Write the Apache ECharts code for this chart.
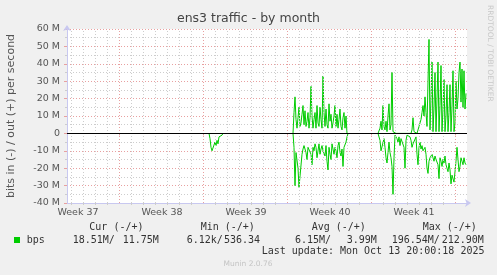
<!DOCTYPE html>
<html><head><meta charset="utf-8">
<script src="https://cdn.jsdelivr.net/npm/echarts@6/dist/echarts.min.js"></script>
<style>html,body{margin:0;padding:0;background:#f0f0f0;}#c{width:497px;height:275px;}</style>
</head><body><div id="c"></div>
<script>
// ---- chart text ----
const chartTitle = 'ens3 traffic - by month';
const yAxisName = 'bits in (-) / out (+) per second';
const sideText = 'RRDTOOL / TOBI OETIKER';
const footerText = 'Munin 2.0.76';
const lastUpdate = 'Last update: Mon Oct 13 20:00:18 2025';

// ---- x axis: hours since Mon Sep 15 00:00 (start of week 38) ----
const xMin = -104.6, xMax = 695.4;
const weekLabels = ['Week 37', 'Week 38', 'Week 39', 'Week 40', 'Week 41'];
const weekLabelHours = [-82.6, 85.4, 253.4, 421.4, 589.4];
const weekStartHours = [0, 168, 336, 504, 672];

// ---- y axis (Mbit/s) ----
const yMin = -40, yMax = 60, yStep = 10;

// ---- samples, 2 hours apart (Mbit/s); "in" drawn negative; zero elsewhere ----
const sampleStep = 2;
const startA = 179.4;
const inA = [0,-3,-8,-10,-10,-9,-5,-7,-4,-6,-2,-1,-1,-1,0];

const startB = 347.4;
const outB = [0,12,21,8,3,9,15,4,6,11,
  16,5,13,4,7,12,3,9,27,10,
  3,8,12,3,16,6,4,15,8,3,
  33,12,4,14,5,3,17,7,11,3,
  6,10,16,4,11,3,8,14,4,2,
  9,12,3,10,0];
const inB = [0,-8,-30,-11,-12,-20,-31,-30,-31,-12,
  -9,-7,-9,-11,-15,-8,-7,-9,-12,-18,
  -8,-10,-6,-8,-14,-15,-6,-12,-9,-7,
  -10,-11,-13,-7,-16,-21,-8,-12,-15,-6,
  -9,-12,-8,-10,-14,-7,-5,-11,-13,-9,
  -19,-8,-7,-5,-2,0];

const startC = 517.4;
const outC = [0,0,3,7,2,16,4,2,7,1,
  10,17,2,5,35,1,0,0,0,0,
  0,0,0,0,0,0,1,0,0,0,
  0,0,0,0,2,9,1,0,1,0,
  2,4,6,8,12,16,10,21,12,4,
  30,54,2,20,41,1,15,35,1,20,
  41,1,16,39,1,14,31,1,10,28,
  1,12,28,1,15,36,1,6,30,14,
  20,35,41,18,37,15,36,14,23];
const inC = [0,0,-4,-10,-11,-10,-3,-8,-14,-17,
  -11,-5,-11,-14,-19,-35,-14,-1,-2,-3,
  -5,-2,-7,-3,-2,-4,-8,-20,-4,-1,
  -1,-1,-2,-4,-8,-6,-7,-5,-2,-12,
  -18,-8,-5,-9,-7,-10,-11,-8,-12,-20,
  -23,-16,-14,-15,-12,-14,-16,-13,-15,-16,
  -18,-26,-14,-16,-19,-15,-17,-13,-18,-20,
  -22,-17,-21,-29,-24,-25,-28,-29,-16,-8,
  -15,-22,-19,-14,-16,-18,-14,-17,-18];

// ---- legend / statistics ----
const legendName = 'bps';
const statHeaders = ['Cur (-/+)', 'Min (-/+)', 'Avg (-/+)', 'Max (-/+)'];
const statIn = ['18.51M/', '6.12k/', '6.15M/', '196.54M/'];
const statOut = ['11.75M', '536.34', '3.99M', '212.90M'];

// ---- build ----
function toPoints(start, vals) { return vals.map((v, i) => [start + i * sampleStep, v]); }
const regions = [
  { name: 'in', start: startA, vals: inA },
  { name: 'out', start: startB, vals: outB },
  { name: 'in', start: startB, vals: inB },
  { name: 'out', start: startC, vals: outC },
  { name: 'in', start: startC, vals: inC }
];

const dayLines = [];
for (let h = Math.ceil(xMin / 24) * 24; h <= xMax; h += 24) if (h % 168 !== 0) dayLines.push(h);

const GREEN = '#00cc00';
const AXIS = '#c8c8f0';
const MAJOR = '#e8a0a0';
const MINOR = '#cdcdcd';
const mono = '10px "DejaVu Sans Mono"';

const statHeaderX = [89.3, 200.7, 311.7, 422.7];
const statInX = [72.7, 186.7, 295, 391.7];
const statOutX = [122.7, 224, 346.7, 441.7];

const graphics = [];
function txt(x, y, text, font, fill, align) {
  graphics.push({ type: 'text', x: x, y: y, silent: true,
    style: { text: text, font: font, fill: fill, textAlign: align || 'left', textVerticalAlign: 'middle', align: align || 'left', verticalAlign: 'middle' } });
}
statHeaders.forEach((t, i) => txt(statHeaderX[i], 227.5, t, mono, '#333'));
statIn.forEach((t, i) => txt(statInX[i], 240, t, mono, '#333'));
statOut.forEach((t, i) => txt(statOutX[i], 240, t, mono, '#333'));
txt(26.7, 240, legendName, mono, '#333');
txt(261.7, 251.5, lastUpdate, mono, '#333');
txt(248, 264, footerText, '7.5px "DejaVu Sans"', '#c4c4c4', 'center');
graphics.push({ type: 'rect', shape: { x: 14, y: 237, width: 6, height: 6 }, style: { fill: GREEN }, silent: true });
graphics.push({ type: 'text', x: 490, y: 5, rotation: -Math.PI / 2, silent: true,
  style: { text: sideText, font: '7.5px "DejaVu Sans"', fill: '#c8c8c8', textAlign: 'left', textVerticalAlign: 'middle', align: 'left', verticalAlign: 'middle' } });

const dataSeries = regions.map(r => ({
  type: 'line', name: r.name, data: toPoints(r.start, r.vals), z: 3, showSymbol: false, symbol: 'none',
  lineStyle: { color: GREEN, width: 1 }, itemStyle: { color: GREEN }
}));

const chart = echarts.init(document.getElementById('c'), null, { renderer: 'canvas' });
chart.setOption({
  animation: false,
  backgroundColor: '#f0f0f0',
  title: { text: chartTitle, left: 'center', top: 7,
    textStyle: { fontFamily: 'DejaVu Sans', fontSize: 12.5, fontWeight: 'normal', color: '#444' } },
  grid: { left: 67, right: 30, top: 29, bottom: 72, show: true, backgroundColor: '#ffffff', borderWidth: 0, containLabel: false, outerBoundsMode: 'none' },
  xAxis: [{
    type: 'value', min: xMin, max: xMax,
    axisLine: { show: true, onZero: false, lineStyle: { color: AXIS, width: 1 }, symbol: ['none', 'arrow'], symbolSize: [6, 6], symbolOffset: [0, 4] },
    axisTick: { show: true, customValues: dayLines, length: 2, inside: false, lineStyle: { color: MINOR } },
    axisLabel: { show: true, customValues: weekLabelHours, margin: 5,
      formatter: v => { const i = weekLabelHours.findIndex(h => Math.abs(h - v) < 0.01); return i >= 0 ? weekLabels[i] : ''; },
      fontFamily: 'DejaVu Sans', fontSize: 9.5, color: '#555' },
    splitLine: { show: false }
  }, {
    type: 'value', min: xMin, max: xMax, position: 'bottom', offset: 0,
    axisLine: { show: false },
    axisTick: { show: true, customValues: weekStartHours, length: 2, lineStyle: { color: MAJOR } },
    axisLabel: { show: false }, splitLine: { show: false }
  }],
  yAxis: {
    type: 'value', min: yMin, max: yMax, interval: yStep,
    name: yAxisName, nameLocation: 'middle', nameGap: 50,
    nameTextStyle: { fontFamily: 'DejaVu Sans', fontSize: 11, color: '#555' },
    axisLine: { show: true, onZero: false, lineStyle: { color: AXIS, width: 1 }, symbol: ['none', 'arrow'], symbolSize: [6, 6], symbolOffset: [0, 4] },
    axisTick: { show: true, length: 3, lineStyle: { color: MAJOR } },
    minorTick: { show: true, splitNumber: 2, length: 2, lineStyle: { color: MINOR } },
    axisLabel: { margin: 7, fontFamily: 'DejaVu Sans', fontSize: 9.5, color: '#555',
      formatter: v => v === 0 ? '0' : v + ' M' },
    splitLine: { show: true, lineStyle: { color: MAJOR, type: [1, 2], width: 1 } },
    minorSplitLine: { show: true, lineStyle: { color: MINOR, type: [1, 2], width: 1 } }
  },
  series: [{
    type: 'line', name: 'grid', data: [], z: 1, silent: true,
    markLine: { silent: true, symbol: 'none', label: { show: false }, animation: false,
      data: dayLines.map(h => ({ xAxis: h, lineStyle: { color: MINOR, type: [1, 2], width: 1 } }))
        .concat(weekStartHours.map(h => ({ xAxis: h, lineStyle: { color: MAJOR, type: [1, 2], width: 1 } }))) }
  }].concat(dataSeries, [{
    type: 'line', name: 'zero', data: [], z: 5, silent: true,
    markLine: { silent: true, symbol: 'none', label: { show: false }, animation: false,
      data: [{ yAxis: 0, lineStyle: { color: '#000', type: 'solid', width: 1 } }] }
  }]),
  graphic: graphics
});
</script></body></html>
